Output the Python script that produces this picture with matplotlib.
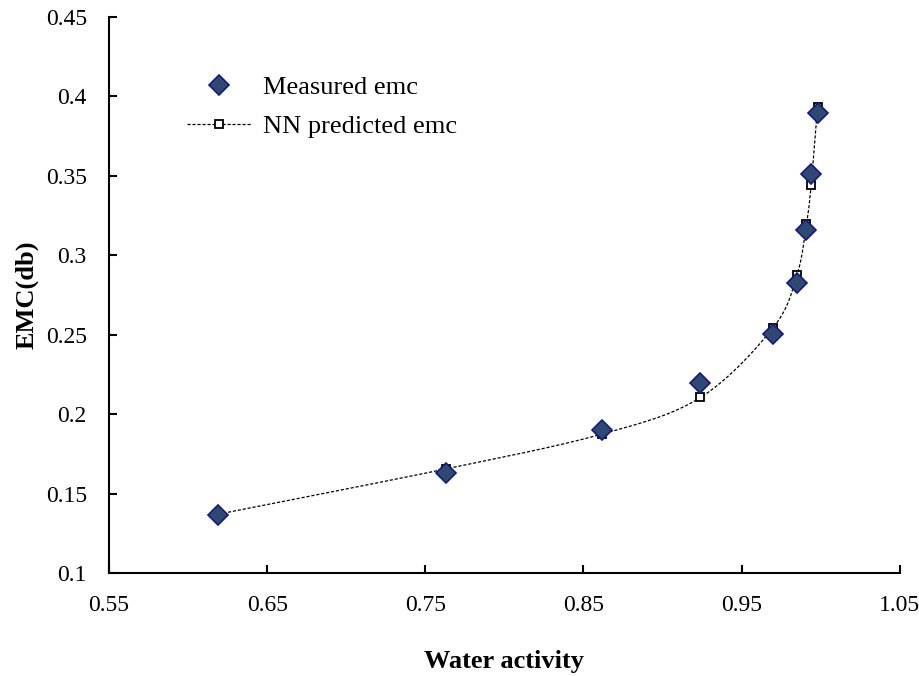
import numpy as np
import matplotlib
matplotlib.use('Agg')
from matplotlib import pyplot as plt

# data
aw_measured = [0.619, 0.763, 0.862, 0.924, 0.970, 0.985, 0.991, 0.994, 0.998]
emc_measured = [0.1365, 0.163, 0.190, 0.2195, 0.2505, 0.2825, 0.316, 0.351, 0.3895]
aw_predicted = [0.619, 0.763, 0.862, 0.924, 0.970, 0.985, 0.991, 0.994, 0.998]
emc_predicted = [0.137, 0.1655, 0.1875, 0.2105, 0.2545, 0.2875, 0.3195, 0.3445, 0.3935]

XLIM = (0.55, 1.05)
YLIM = (0.1, 0.45)


def smooth(x, y, n=30):
    # Excel-like smoothed line (Catmull-Rom), computed in axes-normalised space
    x = np.asarray(x, float)
    y = np.asarray(y, float)
    sx = XLIM[1] - XLIM[0]
    sy = YLIM[1] - YLIM[0]
    p = np.column_stack([(x - XLIM[0]) / sx, (y - YLIM[0]) / sy])
    p = np.vstack([p[0], p, p[-1]])
    out = []
    t = np.linspace(0, 1, n)[:, None]
    for i in range(1, len(p) - 2):
        p0, p1, p2, p3 = p[i - 1], p[i], p[i + 1], p[i + 2]
        c1 = p1 + (p2 - p0) / 6.0
        c2 = p2 - (p3 - p1) / 6.0
        seg = ((1 - t) ** 3) * p1 + 3 * ((1 - t) ** 2) * t * c1 \
            + 3 * (1 - t) * t ** 2 * c2 + t ** 3 * p2
        out.append(seg)
    out = np.vstack(out)
    return out[:, 0] * sx + XLIM[0], out[:, 1] * sy + YLIM[0]


plt.rcParams['font.family'] = ['Liberation Serif', 'DejaVu Serif']

fig = plt.figure(figsize=(9.2, 6.76), dpi=100)
ax = fig.add_axes([0.1185, 0.1524, 0.8595, 0.8225])

sx, sy = smooth(aw_predicted, emc_predicted)
ax.plot(sx, sy, color='black', linestyle=(0, (2.5, 1.5)), linewidth=0.9)
ax.plot(aw_predicted, emc_predicted, linestyle='none', marker='s', markersize=6,
        markerfacecolor='white', markeredgecolor='black', markeredgewidth=1.3)
ax.plot(aw_measured, emc_measured, linestyle='none', marker='D', markersize=10,
        markerfacecolor='#2e4a72', markeredgecolor='#121a80', markeredgewidth=1.2)

# legend handles
h1 = ax.plot([], [], linestyle='none', marker='D', markersize=10,
             markerfacecolor='#2e4a72', markeredgecolor='#121a80',
             markeredgewidth=1.2, label='Measured emc')[0]
h2 = ax.plot([], [], color='black', linestyle=(0, (2.5, 1.5)), linewidth=0.9,
             marker='s', markersize=6, markerfacecolor='white',
             markeredgecolor='black', markeredgewidth=1.3,
             label='NN predicted emc')[0]
ax.legend(handles=[h1, h2], loc='upper left', bbox_to_anchor=(0.068, 0.9376),
          frameon=False, fontsize=19, handlelength=2.45, handletextpad=0.45,
          labelspacing=0.6)

ax.set_xlim(*XLIM)
ax.set_ylim(*YLIM)
ax.set_xticks(np.arange(0.55, 1.0501, 0.1))
ax.set_xticklabels(['0.55', '0.65', '0.75', '0.85', '0.95', '1.05'])
ax.set_yticks(np.arange(0.1, 0.4501, 0.05))
ax.set_yticklabels(['0.1', '0.15', '0.2', '0.25', '0.3', '0.35', '0.4', '0.45'])
ax.tick_params(direction='in', length=6, width=1.5, labelsize=17)
ax.tick_params(axis='y', pad=16)
ax.tick_params(axis='x', pad=16)

ax.spines['top'].set_visible(False)
ax.spines['right'].set_visible(False)
ax.spines['left'].set_linewidth(1.5)
ax.spines['bottom'].set_linewidth(1.5)

ax.set_xlabel('Water activity', fontsize=19, fontweight='bold', labelpad=24)
ax.set_ylabel('EMC(db)', fontsize=19, fontweight='bold', labelpad=5)

fig.savefig('out.png', dpi=100)
